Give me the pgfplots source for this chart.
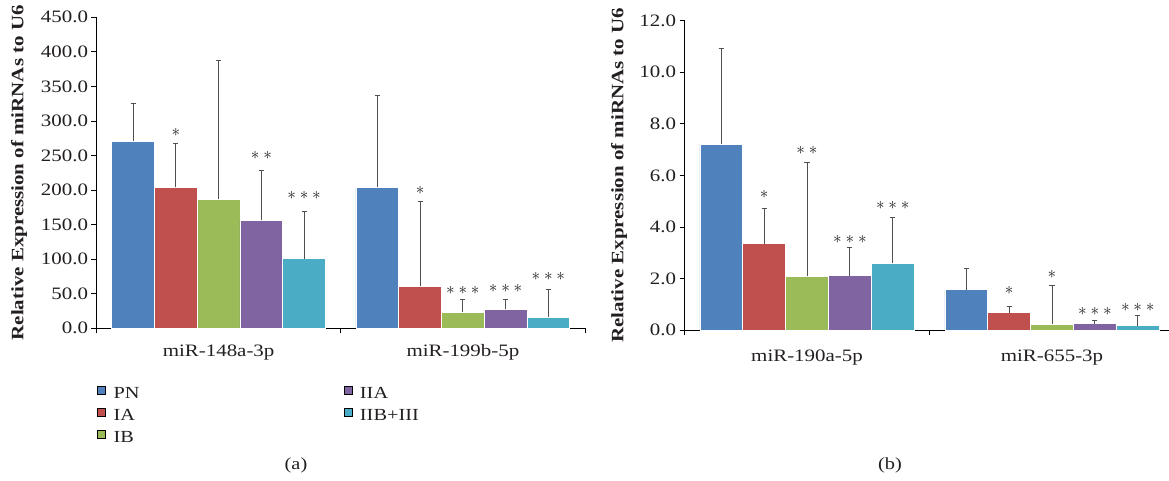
\documentclass[border=0pt]{standalone}
\usepackage{fontspec}
\setmainfont{Liberation Serif}[FakeStretch=1.2]
\usepackage{pgfplots}
\usepackage{pgfplotstable}
\pgfplotsset{compat=1.18}

\definecolor{cPN}{HTML}{4F81BD}
\definecolor{cIA}{HTML}{C0504D}
\definecolor{cIB}{HTML}{9BBB59}
\definecolor{cIIA}{HTML}{8064A2}
\definecolor{cIIB}{HTML}{4BACC6}
\definecolor{txt}{HTML}{231F20}
\definecolor{errc}{HTML}{505050}

% group value / error (upper) for each stage
\pgfplotstableread{
cat pn  pne ia  iae ib  ibe iia  iiae iib iibe
0   271 54  204 63  187 201 156  72.5 101 68
1   204 133 61  123 23  18  27.5 13.5 16  39.5
}\tabA
\pgfplotstableread{
cat pn   pne  ia   iae  ib   ibe  iia  iiae iib  iibe
0   7.21 3.70 3.35 1.37 2.08 4.40 2.11 1.10 2.59 1.78
1   1.56 0.83 0.67 0.26 0.23 1.50 0.25 0.11 0.17 0.38
}\tabB

\newcommand{\sA}{${\ast}$}
\newcommand{\sB}{${\ast}\:{\ast}$}
\newcommand{\sC}{${\ast}\:{\ast}\:{\ast}$}
\newcommand{\ytl}[1]{\textnormal{\fontsize{17.5}{19}\selectfont\pgfmathprintnumber[fixed, fixed zerofill, precision=1, assume math mode=true]{#1}}}

\tikzset{sig/.style={text=txt, font=\fontsize{17.5}{19}\selectfont, inner sep=0pt}}

\pgfplotsset{
  panel/.style={
    scale only axis,
    xmin=-0.5, xmax=1.5, ymin=0,
    xtick={-0.5,0.5,1.5}, xticklabels={},
    axis x line*=bottom, axis y line*=left,
    tick align=outside, major tick length=5bp,
    axis line style={line width=0.8pt, black},
    tick style={line width=0.8pt, black},
    yticklabel={\ytl{\tick}},
    tick label style={font=\fontsize{17.5}{19}\selectfont, text=txt},
    ylabel={Relative Expression of miRNAs to U6},
    ylabel style={font=\bfseries\fontsize{17.5}{19}\selectfont, text=txt, anchor=center},
    clip=false,
  },
  bar/.style={ybar, bar width=42.8bp, bar shift=0pt, draw=white, line width=0.6bp,
    error bars/y dir=plus, error bars/y explicit,
    error bars/error bar style={line width=1pt, errc},
    error bars/error mark options={rotate=90, line width=1pt, errc, mark size=2.6bp}},
}

\begin{document}
\begin{tikzpicture}
\useasboundingbox (0,0) rectangle (1169bp,-481bp);

% (a)
\begin{axis}[panel,
  at={(96.5bp,-328.3bp)}, anchor=south west,
  width=488.5bp, height=311bp,
  ymax=450, ytick={0,50,...,450},
  extra x ticks={0,1},
  extra x tick labels={miR-148a-3p,miR-199b-5p},
  extra x tick style={major tick length=0pt,
    xticklabel style={yshift=-13bp, font=\fontsize{17.5}{19}\selectfont}},
  ylabel style={at={(axis description cs:-0.1586,0.5)}},
  legend columns=2,
  legend cell align=left,
  legend image code/.code={\fill[#1] (0bp,0bp) rectangle (8bp,8bp);},
  legend style={at={(axis description cs:0,0)}, anchor=north west,
    xshift=0.5bp, yshift=-57bp, draw=none, fill=none, inner sep=0pt,
    font=\fontsize{17}{19}\selectfont, text=txt, row sep=7.5bp,
    nodes={inner sep=0pt},
    /tikz/every odd column/.append style={column sep=8bp},
    /tikz/every even column/.append style={column sep=204bp}},
]
\addlegendimage{fill=cPN}\addlegendentry{PN}
\addlegendimage{fill=cIIA}\addlegendentry{IIA}
\addlegendimage{fill=cIA}\addlegendentry{IA}
\addlegendimage{fill=cIIB}\addlegendentry{IIB+III}
\addlegendimage{fill=cIB}\addlegendentry{IB}

\addplot[bar, fill=cPN, forget plot] table[x expr=\thisrow{cat}-0.35, y=pn, y error=pne] {\tabA};
\addplot[bar, fill=cIA, forget plot] table[x expr=\thisrow{cat}-0.175, y=ia, y error=iae] {\tabA};
\addplot[bar, fill=cIB, forget plot] table[x expr=\thisrow{cat}, y=ib, y error=ibe] {\tabA};
\addplot[bar, fill=cIIA, forget plot] table[x expr=\thisrow{cat}+0.175, y=iia, y error=iiae] {\tabA};
\addplot[bar, fill=cIIB, forget plot] table[x expr=\thisrow{cat}+0.35, y=iib, y error=iibe] {\tabA};

\node[sig] at (axis cs:-0.175,283) {\sA};
\node[sig] at (axis cs:0.175,249.8) {\sB};
\node[sig] at (axis cs:0.35,191.9) {\sC};
\node[sig] at (axis cs:0.825,200) {\sA};
\node[sig] at (axis cs:1.0,55.4) {\sC};
\node[sig] at (axis cs:1.175,57.9) {\sC};
\node[sig] at (axis cs:1.35,74.7) {\sC};
\end{axis}

% (b)
\begin{axis}[panel,
  at={(684.5bp,-330bp)}, anchor=south west,
  width=490bp, height=309.3bp,
  ymax=12, ytick={0,2,...,12},
  extra x ticks={0,1},
  extra x tick labels={miR-190a-5p,miR-655-3p},
  extra x tick style={major tick length=0pt,
    xticklabel style={yshift=-16bp, font=\fontsize{17.5}{19}\selectfont}},
  ylabel style={at={(axis description cs:-0.1337,0.5)}},
]
\addplot[bar, fill=cPN] table[x expr=\thisrow{cat}-0.35, y=pn, y error=pne] {\tabB};
\addplot[bar, fill=cIA] table[x expr=\thisrow{cat}-0.175, y=ia, y error=iae] {\tabB};
\addplot[bar, fill=cIB] table[x expr=\thisrow{cat}, y=ib, y error=ibe] {\tabB};
\addplot[bar, fill=cIIA] table[x expr=\thisrow{cat}+0.175, y=iia, y error=iiae] {\tabB};
\addplot[bar, fill=cIIB] table[x expr=\thisrow{cat}+0.35, y=iib, y error=iibe] {\tabB};

\node[sig] at (axis cs:-0.175,5.24) {\sA};
\node[sig] at (axis cs:0,6.95) {\sB};
\node[sig] at (axis cs:0.175,3.53) {\sC};
\node[sig] at (axis cs:0.35,4.82) {\sC};
\node[sig] at (axis cs:0.825,1.55) {\sA};
\node[sig] at (axis cs:1.0,2.17) {\sA};
\node[sig] at (axis cs:1.175,0.71) {\sC};
\node[sig] at (axis cs:1.35,0.88) {\sC};
\end{axis}

\node[text=txt, font=\fontsize{17}{19}\selectfont] at (296bp,-465bp) {(a)};
\node[text=txt, font=\fontsize{17}{19}\selectfont] at (890bp,-465bp) {(b)};
\end{tikzpicture}
\end{document}
